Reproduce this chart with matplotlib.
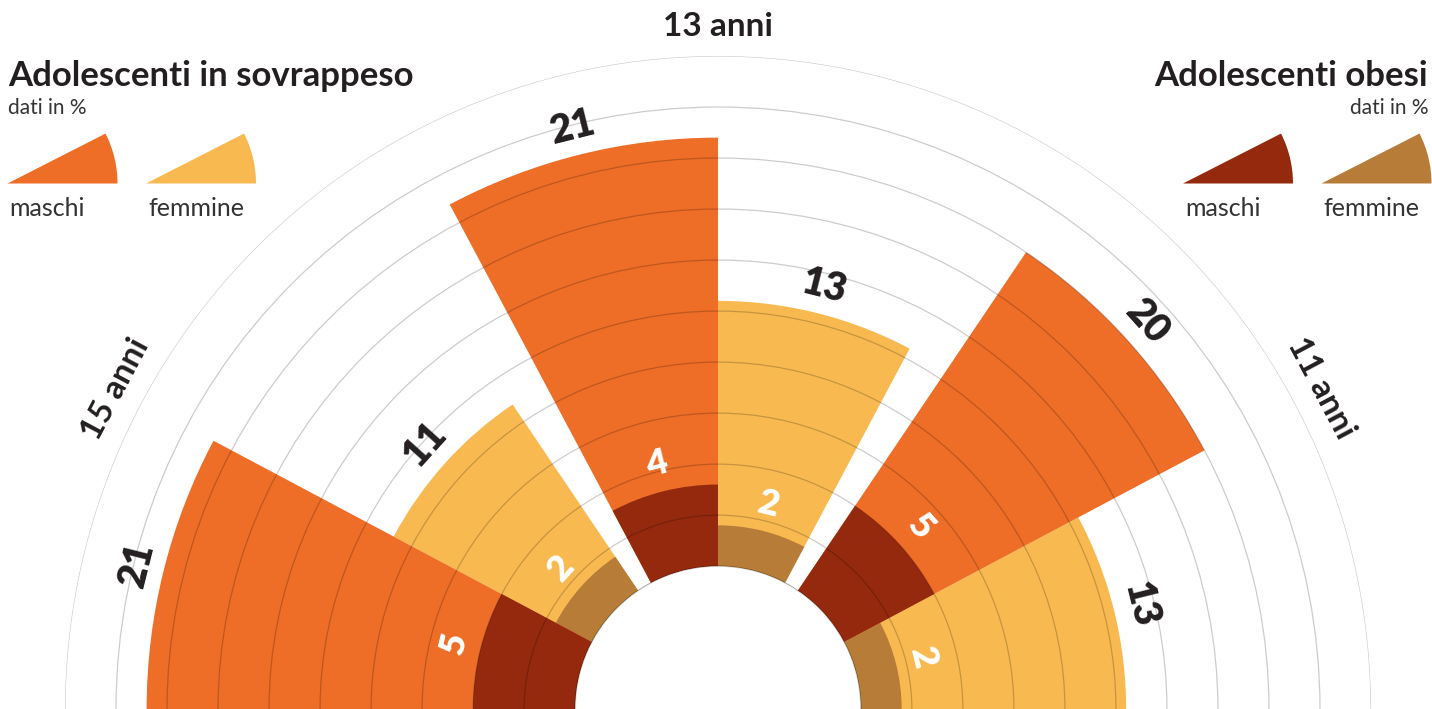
import numpy as np
import matplotlib
matplotlib.use('Agg')
import matplotlib.pyplot as plt
from matplotlib.patches import Wedge

# percentuali per fascia d'eta
eta = ['11 anni', '13 anni', '15 anni']
sovrappeso_maschi = [20, 21, 21]
sovrappeso_femmine = [13, 13, 11]
obesi_maschi = [5, 4, 5]
obesi_femmine = [2, 2, 2]

ARANCIO = '#ee6d27'
GIALLO = '#f8b950'
ROSSO = '#95290d'
MARRONE = '#b87c39'
TESTO = '#231f20'
GRIGIO = '#333333'

plt.rcParams['font.family'] = ['Lato', 'DejaVu Sans']

W, H = 1432, 709
fig = plt.figure(figsize=(W / 100, H / 100), dpi=100)

# semicerchio: centro in basso, raggio esterno 653 px
cx = 718
R = 653
lato = 2 * R
ax = fig.add_axes([(cx - R) / W, -lato / 4 / H, lato / W, lato / H], projection='polar')
ax.set_thetamin(0)
ax.set_thetamax(180)
ax.set_ylim(0, 25)
ax.set_rorigin(-7)

larg = 28   # gradi per spicchio
spazio = 6  # gradi tra le fasce d'eta
theta_f = [g * (2 * larg + spazio) + larg / 2 for g in range(3)]
theta_m = [t + larg for t in theta_f]
theta_eta = [t + larg / 2 for t in theta_f]

w = np.deg2rad(larg)
ax.bar(np.deg2rad(theta_f), sovrappeso_femmine, width=w, bottom=0, color=GIALLO, linewidth=0, zorder=1)
ax.bar(np.deg2rad(theta_m), sovrappeso_maschi, width=w, bottom=0, color=ARANCIO, linewidth=0, zorder=1)
ax.bar(np.deg2rad(theta_f), obesi_femmine, width=w, bottom=0, color=MARRONE, linewidth=0, zorder=1.2)
ax.bar(np.deg2rad(theta_m), obesi_maschi, width=w, bottom=0, color=ROSSO, linewidth=0, zorder=1.2)

# cerchi della griglia sopra gli spicchi
ax.set_yticks(np.arange(0, 25.01, 2.5))
ax.set_yticklabels([])
ax.set_xticks([])
ax.yaxis.grid(True, color='black', alpha=0.2, linewidth=0.9)
for gl in ax.yaxis.get_gridlines():
    gl.set_clip_on(False)
ax.set_axisbelow(False)
# bordo del foro centrale
arco = np.linspace(0, np.pi, 200)
ax.plot(arco, np.zeros_like(arco), color='black', alpha=0.2, linewidth=0.9, clip_on=False, zorder=2.5)
# PolarAxes.draw riaccende gli spine, quindi spessore a zero
for s in ax.spines.values():
    s.set_linewidth(0)
    s.set_edgecolor('none')
ax.patch.set_visible(False)

# etichette dei valori
for t, v in zip(theta_f + theta_m, sovrappeso_femmine + sovrappeso_maschi):
    ax.text(np.deg2rad(t), v + 1.35, str(v), rotation=t - 90, rotation_mode='anchor',
            ha='center', va='center', fontsize=28, fontweight='heavy', color=TESTO, zorder=4)
for t, v in zip(theta_f + theta_m, obesi_femmine + obesi_maschi):
    ax.text(np.deg2rad(t), v + 1.35, str(v), rotation=t - 90, rotation_mode='anchor',
            ha='center', va='center', fontsize=26, fontweight='heavy', color='white', zorder=4)

for t, nome in zip(theta_eta, eta):
    ax.text(np.deg2rad(t), 26.45, nome, rotation=t - 90, rotation_mode='anchor',
            ha='center', va='center', fontsize=24, fontweight='bold', color=TESTO)

# titoli e legende in coordinate pixel
lax = fig.add_axes([0, 0, 1, 1])
lax.set_xlim(0, W)
lax.set_ylim(H, 0)
lax.axis('off')

lax.text(8, 86, 'Adolescenti in sovrappeso', fontsize=25, fontweight='bold', color=TESTO, va='baseline')
lax.text(8, 114, 'dati in %', fontsize=15, color=GRIGIO, va='baseline')
lax.text(1428, 86, 'Adolescenti obesi', fontsize=25, fontweight='bold', color=TESTO, va='baseline', ha='right')
lax.text(1428, 114, 'dati in %', fontsize=15, color=GRIGIO, va='baseline', ha='right')

legenda = [(7.5, ARANCIO, 'maschi'), (146, GIALLO, 'femmine'),
           (1183, ROSSO, 'maschi'), (1321.5, MARRONE, 'femmine')]
for x0, col, lab in legenda:
    lax.add_patch(Wedge((x0, 183.5), 110, 333, 360, color=col, linewidth=0))
    lax.text(x0 + 2, 216, lab, fontsize=18, color=GRIGIO, va='baseline')

fig.savefig('out.png', dpi=100)
